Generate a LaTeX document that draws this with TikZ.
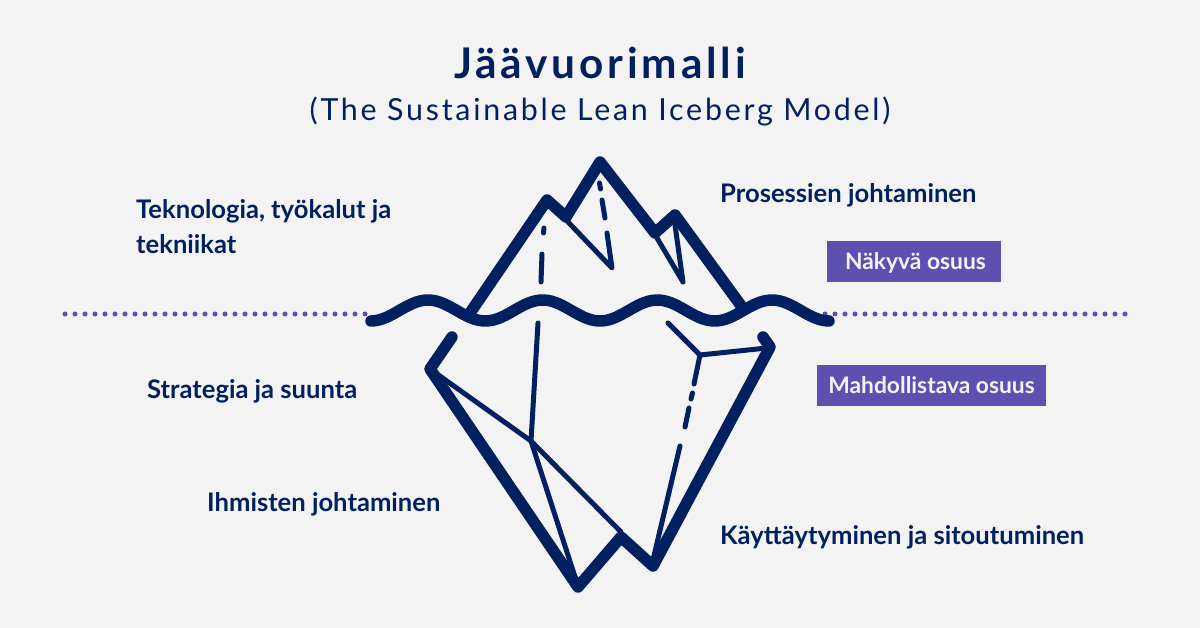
\documentclass[tikz,border=0pt]{standalone}
\usepackage{fontspec}
\setmainfont{Lato}
\newfontfamily\spacedbold[LetterSpace=9]{Lato Bold}
\newfontfamily\spacedreg[LetterSpace=9]{Lato}
\definecolor{navy}{HTML}{012060}
\definecolor{violet}{HTML}{5E50B0}
\definecolor{paper}{HTML}{F3F3F3}
\tikzset{
    ice/.style={draw=navy,line width=11.5pt,line join=round,line cap=round},
    crack/.style={draw=navy,line width=5pt,line join=round,line cap=round},
    waterline/.style={draw=violet,line width=5pt,line cap=round,dash pattern=on 0pt off 10pt},
    label/.style={text=navy,anchor=base west,inner sep=0pt,font=\fontsize{25.6}{30}\selectfont\bfseries},
    part/.style={fill=violet,text=paper,inner sep=0pt,text height=20pt,text depth=3pt,minimum height=41pt,font=\fontsize{22.8}{28}\selectfont\bfseries}
}
\begin{document}
\begin{tikzpicture}[x=1pt,y=-1pt]
    \fill[paper] (0,0) rectangle (1200,628);
    \useasboundingbox (0,0) rectangle (1200,628);
    % title
    \node[anchor=base,text=navy,inner sep=0pt] (title) at (600,78.5) {\fontsize{42.3}{50}\selectfont\spacedbold Jäävuorimalli};
    \node[anchor=base,text=navy,inner sep=0pt] (subtitle) at (600,120.5) {\fontsize{30.4}{36}\selectfont\spacedreg (The Sustainable Lean Iceberg Model)};
    % water
    \draw[waterline] (65,314)--(366,314);
    \draw[waterline] (825,314)--(1126,314);
    % above the water
    \draw[ice] (470,313)--(547,200)--(566,217)--(600,162)--(655,233)--(675,215)--(742,307);
    \draw[crack] (547,200)--(612,268)--(607,233);
    \draw[crack] (605,218)--(602,200) (600.5,189)--(599.5,183);
    \draw[crack] (541,282)--(542,254) (543.5,233)--(544,228);
    \draw[crack] (657,238)--(683,282)--(675,225);
    \draw[ice,smooth,samples=120,domain=371:829] plot(\x,{310.5-10.5*cos((\x-428)/114.67*360)});
    % below the water
    \draw[ice] (452,337)--(430,369)--(578,587)--(621,537)--(653,566)--(770,347)--(763,337);
    \draw[crack] (430,369)--(531,441)--(621,532);
    \draw[crack] (538,323)--(531,441)--(576,580);
    \draw[crack] (668,323)--(700,355)--(767,348);
    \draw[crack] (700,355)--(694,384) (692.5,393)--(691,399) (689,408)--(685,427) (680,446)--(653,560);
    % labels
    \node[label] (tech) at (136,219) {Teknologia, työkalut ja};
    \node[label] (tech2) at (136,253.5) {tekniikat};
    \node[label] (process) at (720,202.5) {Prosessien johtaminen};
    \node[label] (strategy) at (147,399) {Strategia ja suunta};
    \node[label] (people) at (207,511.5) {Ihmisten johtaminen};
    \node[label] (behaviour) at (720,544) {Käyttäytyminen ja sitoutuminen};
    \node[part,minimum width=174pt] (visible) at (914,261.5) {\hspace{3pt}Näkyvä osuus};
    \node[part,minimum width=229pt] (enabling) at (931.5,385.5) {Mahdollistava osuus};
\end{tikzpicture}
\end{document}
